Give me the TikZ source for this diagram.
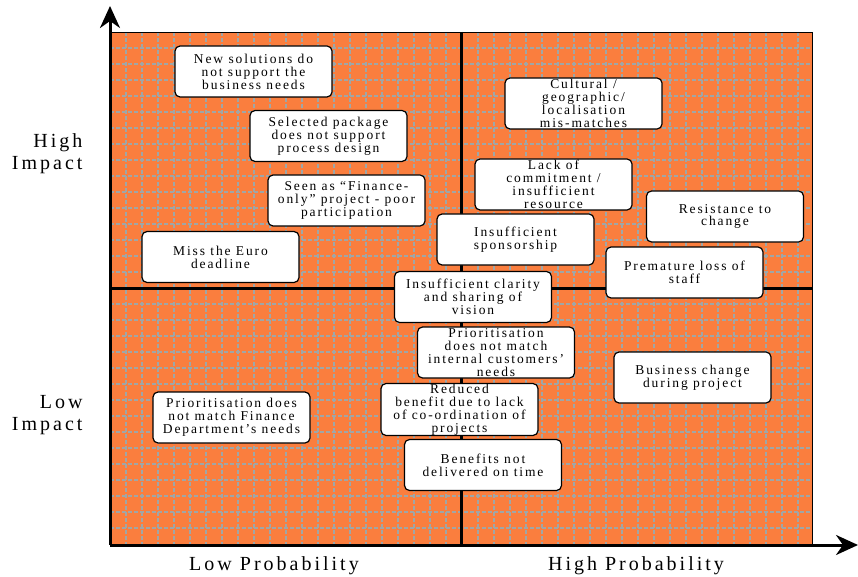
\documentclass[tikz,border=0pt]{standalone}
\usepackage{fontspec}
\setmainfont[LetterSpace=14]{Liberation Serif}
\usetikzlibrary{arrows.meta}
\definecolor{riskorange}{RGB}{250,126,62}
\definecolor{gridgrey}{RGB}{160,166,166}

\begin{document}
\begin{tikzpicture}[x=1pt,y=-1pt,
  risk/.style={draw,line width=1.2pt,fill=white,rounded corners=5pt,
    minimum width=157pt,minimum height=51pt,inner sep=0.5pt,align=center,
    font=\fontsize{13.5}{12.9}\selectfont},
  axislabel/.style={font=\fontsize{20}{22}\selectfont\addfontfeature{LetterSpace=15}},
  axis/.style={line width=3pt,-{Stealth[length=22pt,width=20pt,inset=7pt]}}]
 \useasboundingbox (0,0) rectangle (858,577);
 \coordinate (origin) at (110,545);
 \coordinate (ytop) at (110,6);
 \coordinate (xend) at (858,545);
 \fill[riskorange] (110,32) rectangle (812,545);
  \foreach \x in {126,142,...,810} % grid, vertical
    \draw[gridgrey,line width=1.3pt,dash pattern=on 4pt off 2pt] (\x,32) -- (\x,545);
  \foreach \y in {48,64,...,540} % grid, horizontal
    \draw[gridgrey,line width=1.3pt,dash pattern=on 4pt off 2pt] (110,\y) -- (812,\y);
 \draw[line width=0.8pt] (110,32) -- (812,32) -- (812,545);
 \draw[line width=3pt] (461,32) -- (461,545); % quadrants
 \draw[line width=3pt] (110,288) -- (812,288);
 \draw[axis] (origin) -- (ytop);
 \draw[axis] (origin) -- (xend);
 % axis labels
 \node[axislabel,align=right,anchor=east] (highimp) at (86,154) {High\\Impact};
 \node[axislabel,align=right,anchor=east] (lowimp) at (86,415) {Low\\Impact};
 \node[axislabel] (lowprob) at (274,566) {Low Probability};
 \node[axislabel] (highprob) at (636,566) {High Probability};
 % risks, high impact
 \node[risk] (newsol) at (253.5,71.5) {New solutions do\\not support the\\business needs};
 \node[risk] (selpkg) at (328.5,136) {Selected package\\does not support\\process design};
 \node[risk] (finonly) at (346.5,200.5) {Seen as ``Finance-\\only'' project - poor\\participation};
 \node[risk] (euro) at (220.5,257) {Miss the Euro\\deadline};
 \node[risk] (cultural) at (583.5,103.5) {Cultural /\\geographic/\\localisation\\mis-matches};
 \node[risk] (commit) at (553.5,184.5) {Lack of\\commitment /\\insufficient\\resource};
 \node[risk] (resist) at (725,216.5) {Resistance to\\change};
 \node[risk] (sponsor) at (515.5,239.5) {Insufficient\\sponsorship};
 \node[risk] (staff) at (684.5,272.5) {Premature loss of\\staff};
 % risks, low impact
 \node[risk] (clarity) at (473,297) {Insufficient clarity\\and sharing of\\vision};
 \node[risk] (intcust) at (496,352.5) {Prioritisation\\does not match\\internal customers'\\needs};
 \node[risk] (coord) at (459.5,409.5) {Reduced\\benefit due to lack\\of co-ordination of\\projects};
 \node[risk] (benefits) at (483,465) {Benefits not\\delivered on time};
 \node[risk] (findept) at (231.5,417.5) {Prioritisation does\\not match Finance\\Department's needs};
 \node[risk] (buschange) at (692.5,377.5) {Business change\\during project};
\end{tikzpicture}
\end{document}
